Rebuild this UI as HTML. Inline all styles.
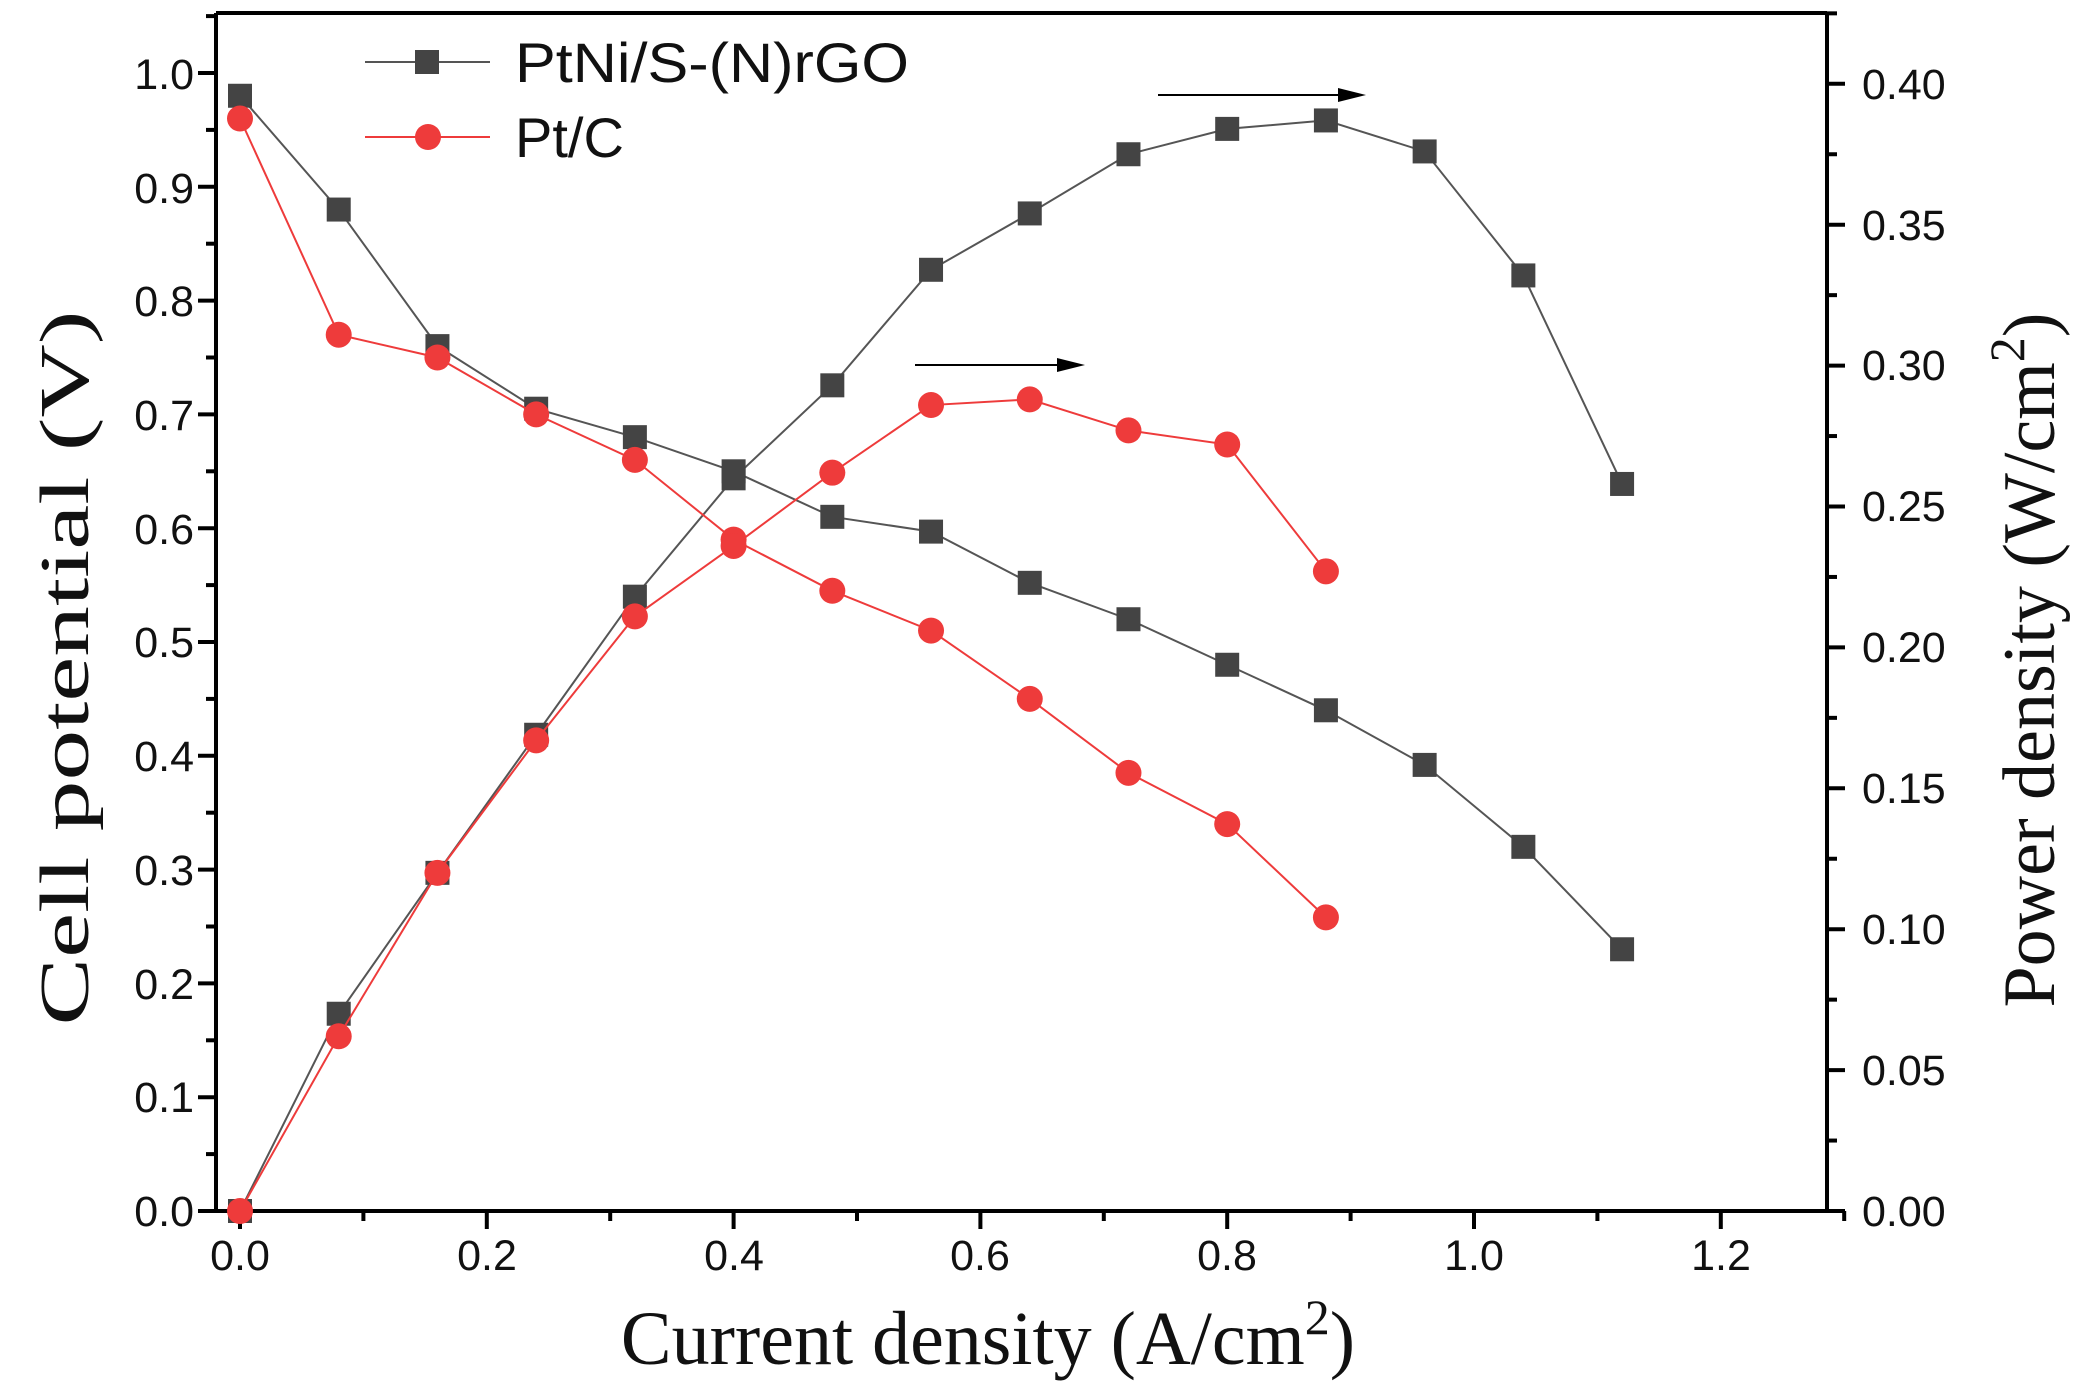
<!DOCTYPE html>
<html><head><style>html,body{margin:0;padding:0;background:#fff;width:2079px;height:1393px;overflow:hidden}</style></head>
<body>
<svg id="s" width="2079" height="1393" xmlns="http://www.w3.org/2000/svg" font-family="Liberation Sans, sans-serif">
<rect width="2079" height="1393" fill="#fff"/>
<g id="ax" stroke="#000" stroke-width="4" fill="none">
<line x1="216" y1="1211" x2="1827" y2="1211"/>
<line x1="216" y1="13" x2="1827" y2="13"/>
<line x1="216" y1="13" x2="216" y2="1211"/>
<line x1="1827" y1="13" x2="1827" y2="1211"/>
</g>
<g font-size="43" fill="#111" text-anchor="end">
<text x="194" y="1226">0.0</text><text x="194" y="1112">0.1</text><text x="194" y="999">0.2</text><text x="194" y="885">0.3</text><text x="194" y="771">0.4</text><text x="194" y="657">0.5</text><text x="194" y="544">0.6</text><text x="194" y="430">0.7</text><text x="194" y="316">0.8</text><text x="194" y="203">0.9</text><text x="194" y="89">1.0</text>
</g>
<g font-size="43" fill="#111" text-anchor="start">
<text x="1862" y="1226">0.00</text><text x="1862" y="1085">0.05</text><text x="1862" y="944">0.10</text><text x="1862" y="803">0.15</text><text x="1862" y="662">0.20</text><text x="1862" y="521">0.25</text><text x="1862" y="380">0.30</text><text x="1862" y="240">0.35</text><text x="1862" y="99">0.40</text>
</g>
<g font-size="43" fill="#111" text-anchor="middle">
<text x="240" y="1270">0.0</text><text x="487" y="1270">0.2</text><text x="734" y="1270">0.4</text><text x="980" y="1270">0.6</text><text x="1227" y="1270">0.8</text><text x="1474" y="1270">1.0</text><text x="1721" y="1270">1.2</text>
</g>
<text x="988" y="1364" font-family="Liberation Serif, serif" font-size="76" text-anchor="middle" fill="#111">Current density (A/cm<tspan font-size="50" dy="-30">2</tspan><tspan dy="30">)</tspan></text>
<text transform="translate(88,668) rotate(-90)" font-family="Liberation Serif, serif" font-size="70" text-anchor="middle" fill="#111" textLength="715" lengthAdjust="spacingAndGlyphs">Cell potential (V)</text>
<text transform="translate(2054,660) rotate(-90)" font-family="Liberation Serif, serif" font-size="74" text-anchor="middle" fill="#111">Power density (W/cm<tspan font-size="50" dy="-30">2</tspan><tspan dy="30">)</tspan></text>
<g font-size="56" fill="#111">
<text x="515" y="82" textLength="394" lengthAdjust="spacingAndGlyphs">PtNi/S-(N)rGO</text>
<text x="515" y="157">Pt/C</text>
</g>
<g id="d"></g>
</svg>
<script>
var NS="http://www.w3.org/2000/svg",g=document.getElementById('d'),ax=document.getElementById('ax');
function el(t,a,p){var e=document.createElementNS(NS,t);for(var k in a)e.setAttribute(k,a[k]);(p||g).appendChild(e);return e;}
function X(x){return 240+x*1234;}function YL(v){return 1211-v*1138;}function YR(v){return 1211-v*2818;}
for(var i=0;i<=13;i++){var x=X(i*0.1);el('line',{x1:x,y1:1211,x2:x,y2:1211+(i%2?10:18)},ax);}
for(var i=0;i<=21;i++){var y=YL(i*0.05);if(y<13)continue;el('line',{x1:216,y1:y,x2:216-(i%2?10:18),y2:y},ax);}
for(var i=0;i<=17;i++){var y=YR(i*0.025);if(y<13)continue;el('line',{x1:1827,y1:y,x2:1827+(i%2?10:18),y2:y},ax);}
var xs=[0,.08,.16,.24,.32,.40,.48,.56,.64,.72,.80,.88,.96,1.04,1.12];
var bV=[.98,.88,.76,.705,.68,.65,.61,.597,.552,.52,.48,.44,.392,.32,.23];
var bP=[0,.07,.12,.169,.218,.26,.293,.334,.354,.375,.384,.387,.376,.332,.258];
var rV=[.96,.77,.75,.70,.66,.59,.545,.51,.45,.385,.34,.258];
var rP=[0,.062,.12,.167,.211,.236,.262,.286,.288,.277,.272,.227];
function series(v,Y,col,sq){var pts=v.map(function(y,i){return X(xs[i])+','+Y(y)}).join(' ');
el('polyline',{points:pts,fill:'none',stroke:col,'stroke-width':2});
v.forEach(function(y,i){var cx=X(xs[i]),cy=Y(y);if(sq)el('rect',{x:cx-12,y:cy-12,width:24,height:24,fill:'#444'});else el('circle',{cx:cx,cy:cy,r:13,fill:'#ee3b3b'});});}
series(bV,YL,'#555',1);series(bP,YR,'#555',1);series(rV,YL,'#ee3b3b',0);series(rP,YR,'#ee3b3b',0);
el('line',{x1:365,y1:62,x2:490,y2:62,stroke:'#555','stroke-width':2});el('rect',{x:415,y:50,width:24,height:24,fill:'#444'});
el('line',{x1:365,y1:137,x2:490,y2:137,stroke:'#ee3b3b','stroke-width':2});el('circle',{cx:428,cy:137,r:13,fill:'#ee3b3b'});
function arrow(x1,x2,y){el('line',{x1:x1,y1:y,x2:x2-20,y2:y,stroke:'#000','stroke-width':2});el('polygon',{points:(x2-28)+','+(y-7)+' '+x2+','+y+' '+(x2-28)+','+(y+7),fill:'#000'});}
arrow(1158,1366,95);arrow(915,1085,365);
</script>
</body></html>
